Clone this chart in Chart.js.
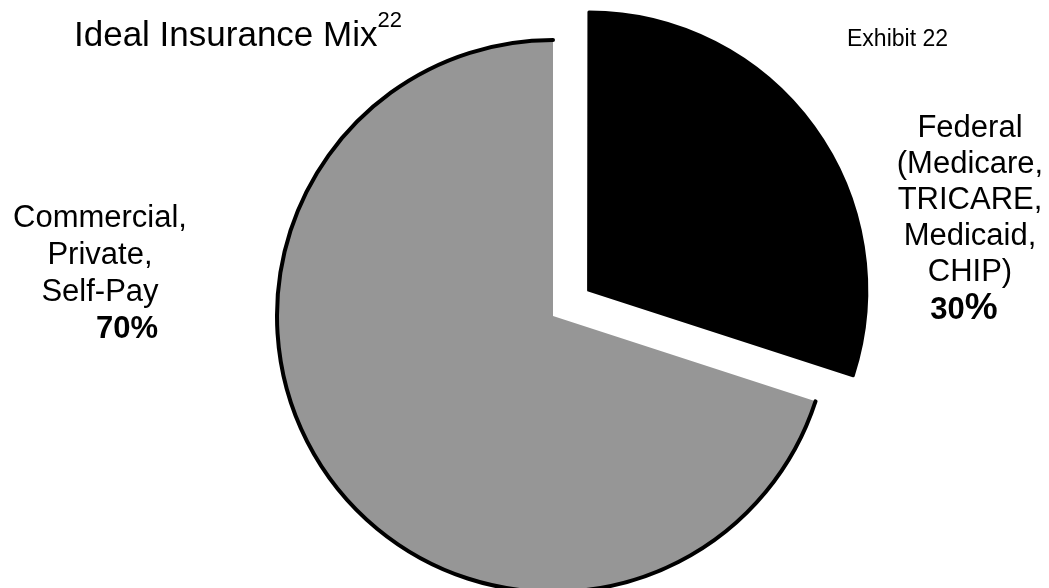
<!DOCTYPE html>
<html>
<head>
<meta charset="utf-8">
<script src="https://cdn.jsdelivr.net/npm/chart.js@4.4.1/dist/chart.umd.min.js"></script>
<style>
  html, body { margin: 0; padding: 0; background: #fff; }
  body { width: 1049px; height: 588px; position: relative; overflow: hidden; font-family: "Liberation Sans", Arial, sans-serif; color: #000; }
  #myPieChart { position: absolute; left: 0; top: 0; }
  .txt { position: absolute; white-space: nowrap; }
  #title { left: 74px; top: 16px; font-size: 35px; line-height: 35px; }
  #title sup { font-size: 22px; vertical-align: 19px; line-height: 0; }
  #exhibit { left: 847px; top: 27px; font-size: 23px; line-height: 23px; }
  .slice-label { text-align: center; font-size: 31px; }
  .slice-label b { font-weight: bold; }
</style>
</head>
<body>
<canvas id="myPieChart" width="1049" height="588"></canvas>
<div class="txt" id="title"></div>
<div class="txt" id="exhibit"></div>
<div class="txt slice-label" id="label0" style="left:870px; top:109px; width:200px; line-height:36px;"></div>
<div class="txt slice-label" id="label1" style="left:0px; top:198px; width:200px; line-height:37px;"></div>
<script>
var titleText = "Ideal Insurance Mix";
var titleNote = "22";
var exhibitText = "Exhibit 22";

var categories = ["Federal (Medicare, TRICARE, Medicaid, CHIP)", "Commercial, Private, Self-Pay"];
var categoryLines = [
  ["Federal", "(Medicare,", "TRICARE,", "Medicaid,", "CHIP)"],
  ["Commercial,", "Private,", "Self-Pay"],
];
var shares = [30, 70];

document.getElementById("title").innerHTML = titleText + "<sup>" + titleNote + "</sup>";
document.getElementById("exhibit").textContent = exhibitText;

var lbl0 = document.getElementById("label0");
lbl0.innerHTML = categoryLines[0].join("<br>") +
  '<br><b style="margin-left:-12px">' + shares[0] + '<span style="font-size:37px">%</span></b>';
var lbl1 = document.getElementById("label1");
lbl1.innerHTML = categoryLines[1].join("<br>") +
  '<br><b style="margin-left:54px">' + shares[1] + "%</b>";

// outline only the round edge of a slice, not the straight sides
var arcOutline = {
  id: "arcOutline",
  afterDatasetsDraw: function (chart) {
    var meta = chart.getDatasetMeta(0);
    var ctx = chart.ctx;
    meta.data.forEach(function (arc, i) {
      if (i !== 1) return;
      var p = arc.getProps(["x", "y", "startAngle", "endAngle", "outerRadius"]);
      ctx.save();
      ctx.beginPath();
      ctx.arc(p.x, p.y, p.outerRadius, p.startAngle, p.endAngle);
      ctx.lineWidth = 4;
      ctx.lineCap = "round";
      ctx.strokeStyle = "#000";
      ctx.stroke();
      ctx.restore();
    });
  },
};

var canvas = document.getElementById("myPieChart");
var chart = new Chart(canvas.getContext("2d"), {
  type: "pie",
  data: {
    labels: categories,
    datasets: [
      {
        data: shares,
        backgroundColor: ["#000000", "#969696"],
        borderColor: ["#000000", "#969696"],
        borderWidth: [3, 0],
        borderJoinStyle: "round",
        offset: [176, 0],
      },
    ],
  },
  options: {
    responsive: false,
    animation: false,
    devicePixelRatio: 1,
    radius: 276,
    layout: { padding: { left: 57, top: 44, right: 0, bottom: 0 } },
    plugins: {
      legend: { display: false },
      tooltip: { enabled: false },
    },
    events: [],
  },
  plugins: [arcOutline],
});
</script>
</body>
</html>
